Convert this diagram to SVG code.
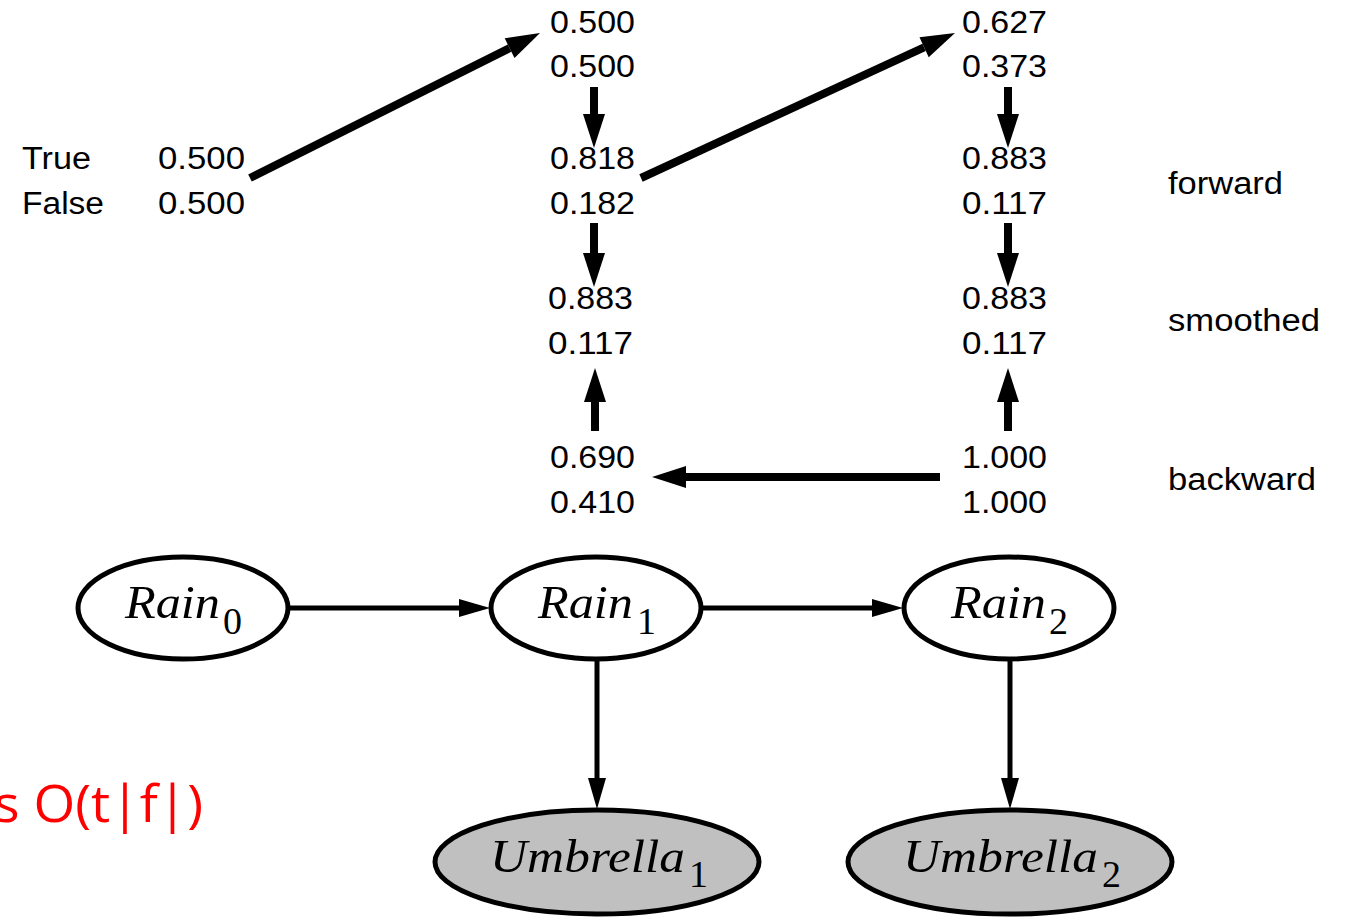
<svg xmlns="http://www.w3.org/2000/svg" width="1345" height="921" viewBox="0 0 1345 921">
<style>
.num{font-family:"Liberation Sans",Arial,sans-serif;font-size:31px;fill:#000}
.lbl{font-family:"Liberation Sans",Arial,sans-serif;font-size:31px;fill:#000}
.var{font-family:"Liberation Serif","Times New Roman",serif;font-style:italic;font-size:46px;fill:#000}
.sub{font-family:"Liberation Serif","Times New Roman",serif;font-style:normal;font-size:38px;fill:#000}
.thick{stroke:#000;stroke-width:8;fill:none}
.thin{stroke:#000;stroke-width:5;fill:none}
.node{stroke:#000;stroke-width:5;fill:#fff}
.obs{stroke:#000;stroke-width:5;fill:#c0c0c0}
.red{font-family:"Open Sans","Liberation Sans",sans-serif;font-size:52px;fill:#ff0000}
</style>
<defs>
<marker id="big" markerUnits="userSpaceOnUse" markerWidth="36" markerHeight="22" refX="0" refY="11" orient="auto" overflow="visible">
<path d="M0,0 L34,11 L0,22 z" fill="#000"/>
</marker>
<marker id="small" markerUnits="userSpaceOnUse" markerWidth="32" markerHeight="18" refX="0" refY="9" orient="auto" overflow="visible">
<path d="M0,0 L31,9 L0,18 z" fill="#000"/>
</marker>
</defs>
<rect width="1345" height="921" fill="#fff"/>

<g id="prior">
<text class="lbl" x="22" y="169" textLength="69" lengthAdjust="spacingAndGlyphs">True</text>
<text class="lbl" x="22" y="214" textLength="82" lengthAdjust="spacingAndGlyphs">False</text>
<text class="num" x="158" y="169" textLength="87" lengthAdjust="spacingAndGlyphs">0.500</text>
<text class="num" x="158" y="214" textLength="87" lengthAdjust="spacingAndGlyphs">0.500</text>
</g>

<g id="col1">
<text class="num" x="550" y="33" textLength="85" lengthAdjust="spacingAndGlyphs">0.500</text>
<text class="num" x="550" y="77" textLength="85" lengthAdjust="spacingAndGlyphs">0.500</text>
<text class="num" x="550" y="169" textLength="85" lengthAdjust="spacingAndGlyphs">0.818</text>
<text class="num" x="550" y="214" textLength="85" lengthAdjust="spacingAndGlyphs">0.182</text>
<text class="num" x="548" y="309" textLength="85" lengthAdjust="spacingAndGlyphs">0.883</text>
<text class="num" x="548" y="354" textLength="85" lengthAdjust="spacingAndGlyphs">0.117</text>
<text class="num" x="550" y="468" textLength="85" lengthAdjust="spacingAndGlyphs">0.690</text>
<text class="num" x="550" y="513" textLength="85" lengthAdjust="spacingAndGlyphs">0.410</text>
</g>

<g id="col2">
<text class="num" x="962" y="33" textLength="85" lengthAdjust="spacingAndGlyphs">0.627</text>
<text class="num" x="962" y="77" textLength="85" lengthAdjust="spacingAndGlyphs">0.373</text>
<text class="num" x="962" y="169" textLength="85" lengthAdjust="spacingAndGlyphs">0.883</text>
<text class="num" x="962" y="214" textLength="85" lengthAdjust="spacingAndGlyphs">0.117</text>
<text class="num" x="962" y="309" textLength="85" lengthAdjust="spacingAndGlyphs">0.883</text>
<text class="num" x="962" y="354" textLength="85" lengthAdjust="spacingAndGlyphs">0.117</text>
<text class="num" x="962" y="468" textLength="85" lengthAdjust="spacingAndGlyphs">1.000</text>
<text class="num" x="962" y="513" textLength="85" lengthAdjust="spacingAndGlyphs">1.000</text>
</g>

<g id="labels">
<text class="lbl" x="1168" y="194" textLength="115" lengthAdjust="spacingAndGlyphs">forward</text>
<text class="lbl" x="1168" y="331" textLength="152" lengthAdjust="spacingAndGlyphs">smoothed</text>
<text class="lbl" x="1168" y="490" textLength="148" lengthAdjust="spacingAndGlyphs">backward</text>
</g>

<g id="rain0">
<ellipse class="node" cx="183" cy="608" rx="105" ry="51"/>
<text class="var" x="125" y="618" textLength="95" lengthAdjust="spacingAndGlyphs">Rain</text>
<text class="sub" x="223" y="634">0</text>
</g>
<g id="rain1">
<ellipse class="node" cx="596" cy="608" rx="105" ry="51"/>
<text class="var" x="538" y="618" textLength="95" lengthAdjust="spacingAndGlyphs">Rain</text>
<text class="sub" x="637" y="634">1</text>
</g>
<g id="rain2">
<ellipse class="node" cx="1009" cy="608" rx="105" ry="51"/>
<text class="var" x="951" y="618" textLength="95" lengthAdjust="spacingAndGlyphs">Rain</text>
<text class="sub" x="1049" y="634">2</text>
</g>
<g id="umbrella1">
<ellipse class="obs" cx="597" cy="862" rx="162" ry="52"/>
<text class="var" x="490" y="872" textLength="195" lengthAdjust="spacingAndGlyphs">Umbrella</text>
<text class="sub" x="689" y="887">1</text>
</g>
<g id="umbrella2">
<ellipse class="obs" cx="1010" cy="862" rx="162" ry="52"/>
<text class="var" x="903" y="872" textLength="195" lengthAdjust="spacingAndGlyphs">Umbrella</text>
<text class="sub" x="1102" y="887">2</text>
</g>

<g id="connectors">
<line class="thick" x1="250" y1="178" x2="509.6" y2="48.2" marker-end="url(#big)"/>
<line class="thick" x1="641" y1="178" x2="924.1" y2="47.3" marker-end="url(#big)"/>
<line class="thick" x1="594" y1="87" x2="594" y2="114" marker-end="url(#big)"/>
<line class="thick" x1="594" y1="223" x2="594" y2="253" marker-end="url(#big)"/>
<line class="thick" x1="1008" y1="87" x2="1008" y2="114" marker-end="url(#big)"/>
<line class="thick" x1="1008" y1="223" x2="1008" y2="253" marker-end="url(#big)"/>
<line class="thick" x1="595" y1="431" x2="595" y2="402" marker-end="url(#big)"/>
<line class="thick" x1="1008" y1="431" x2="1008" y2="402" marker-end="url(#big)"/>
<line class="thick" x1="940" y1="477" x2="686" y2="477" marker-end="url(#big)"/>
<line class="thin" x1="288" y1="608" x2="459" y2="608" marker-end="url(#small)"/>
<line class="thin" x1="701" y1="608" x2="872" y2="608" marker-end="url(#small)"/>
<line class="thin" x1="597" y1="659" x2="597" y2="778" marker-end="url(#small)"/>
<line class="thin" x1="1010" y1="659" x2="1010" y2="778" marker-end="url(#small)"/>
</g>

<text class="red" x="-6" y="822" textLength="209" lengthAdjust="spacingAndGlyphs">s O(t|f|)</text>
</svg>
